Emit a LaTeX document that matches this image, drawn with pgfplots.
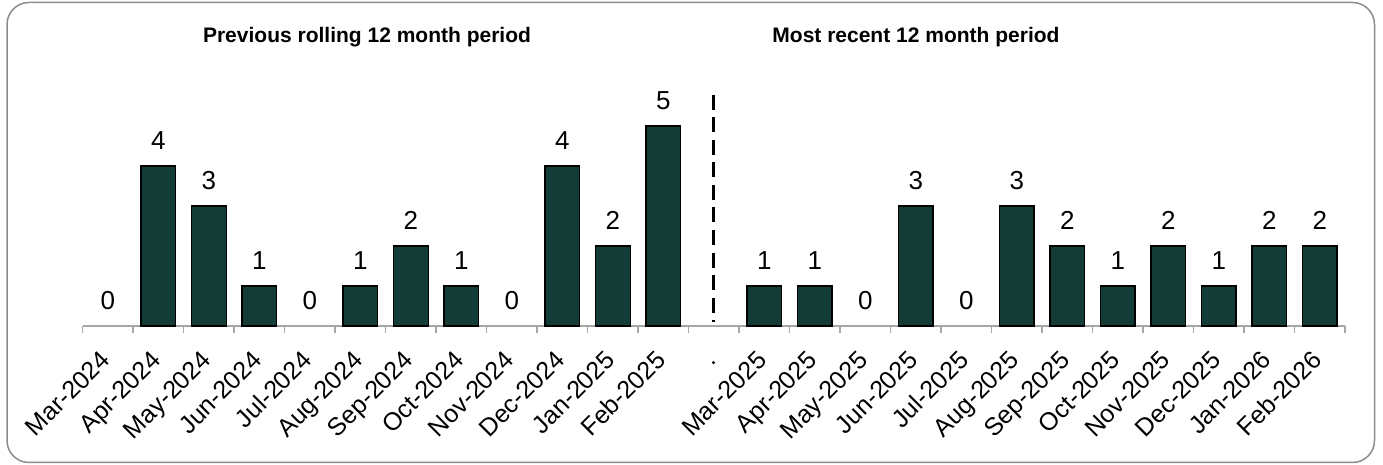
\documentclass[border=0pt]{standalone}
\usepackage{fontspec}
\setmainfont{Liberation Sans}
\usepackage{pgfplots}
\pgfplotsset{compat=1.18}
\definecolor{barfill}{RGB}{19,60,54}
\definecolor{boxgray}{RGB}{140,140,140}
\definecolor{axisgray}{RGB}{166,166,166}
\begin{document}
\begin{tikzpicture}
\path[use as bounding box] (0,0) rectangle (1383pt,465pt);
\draw[boxgray, line width=1.5pt, rounded corners=22pt] (7pt,2.5pt) rectangle (1374.5pt,462.5pt);
\node[font=\fontsize{21}{25}\selectfont\bfseries, anchor=base] at (367pt,422pt) {Previous rolling 12 month period};
\node[font=\fontsize{21}{25}\selectfont\bfseries, anchor=base] at (916pt,422pt) {Most recent 12 month period};
\begin{axis}[
    at={(82.7pt,139pt)}, anchor=south west,
    scale only axis, width=1262.3pt, height=260pt,
    xmin=-0.5, xmax=24.5, ymin=0, ymax=6.5,
    axis x line=bottom, axis y line=none,
    x axis line style={-, axisgray, line width=1.5pt},
    xtick={0,...,24},
    xticklabels={Mar-2024,Apr-2024,May-2024,Jun-2024,Jul-2024,Aug-2024,Sep-2024,Oct-2024,Nov-2024,Dec-2024,Jan-2025,Feb-2025,.,Mar-2025,Apr-2025,May-2025,Jun-2025,Jul-2025,Aug-2025,Sep-2025,Oct-2025,Nov-2025,Dec-2025,Jan-2026,Feb-2026},
    minor xtick={-0.5,0.5,...,24.5},
    major tick length=0pt, minor tick length=7pt,
    tick align=outside,
    minor tick style={axisgray, line width=1.5pt},
    xticklabel style={font=\fontsize{25}{30}\selectfont, inner sep=0pt, anchor=base east, xshift=3.7pt, yshift=-35.5pt, rotate=45},
    /pgf/number format/assume math mode=true,
    clip=false,
]
\addplot[ybar, bar width=34.7pt, bar shift=0pt, fill=barfill, draw=black, line width=1.4pt,
    nodes near coords, nodes near coords style={font=\fontsize{26}{31}\selectfont, anchor=base, yshift=16.7pt, text=black}]
    coordinates {(1,4)(2,3)(3,1)(5,1)(6,2)(7,1)(9,4)(10,2)(11,5)
                 (13,1)(14,1)(16,3)(18,3)(19,2)(20,1)(21,2)(22,1)(23,2)(24,2)};
\addplot[ybar, bar width=34.7pt, bar shift=0pt, draw=none, fill=none,
    nodes near coords, nodes near coords style={font=\fontsize{26}{31}\selectfont, anchor=base, yshift=16.7pt, text=black}]
    coordinates {(0,0)(4,0)(8,0)(15,0)(17,0)};
\addplot[sharp plot, black, line width=3pt, dash pattern=on 15pt off 7.5pt, no marks]
    coordinates {(12,5.775)(12,0.11)};
\end{axis}
\end{tikzpicture}
\end{document}
